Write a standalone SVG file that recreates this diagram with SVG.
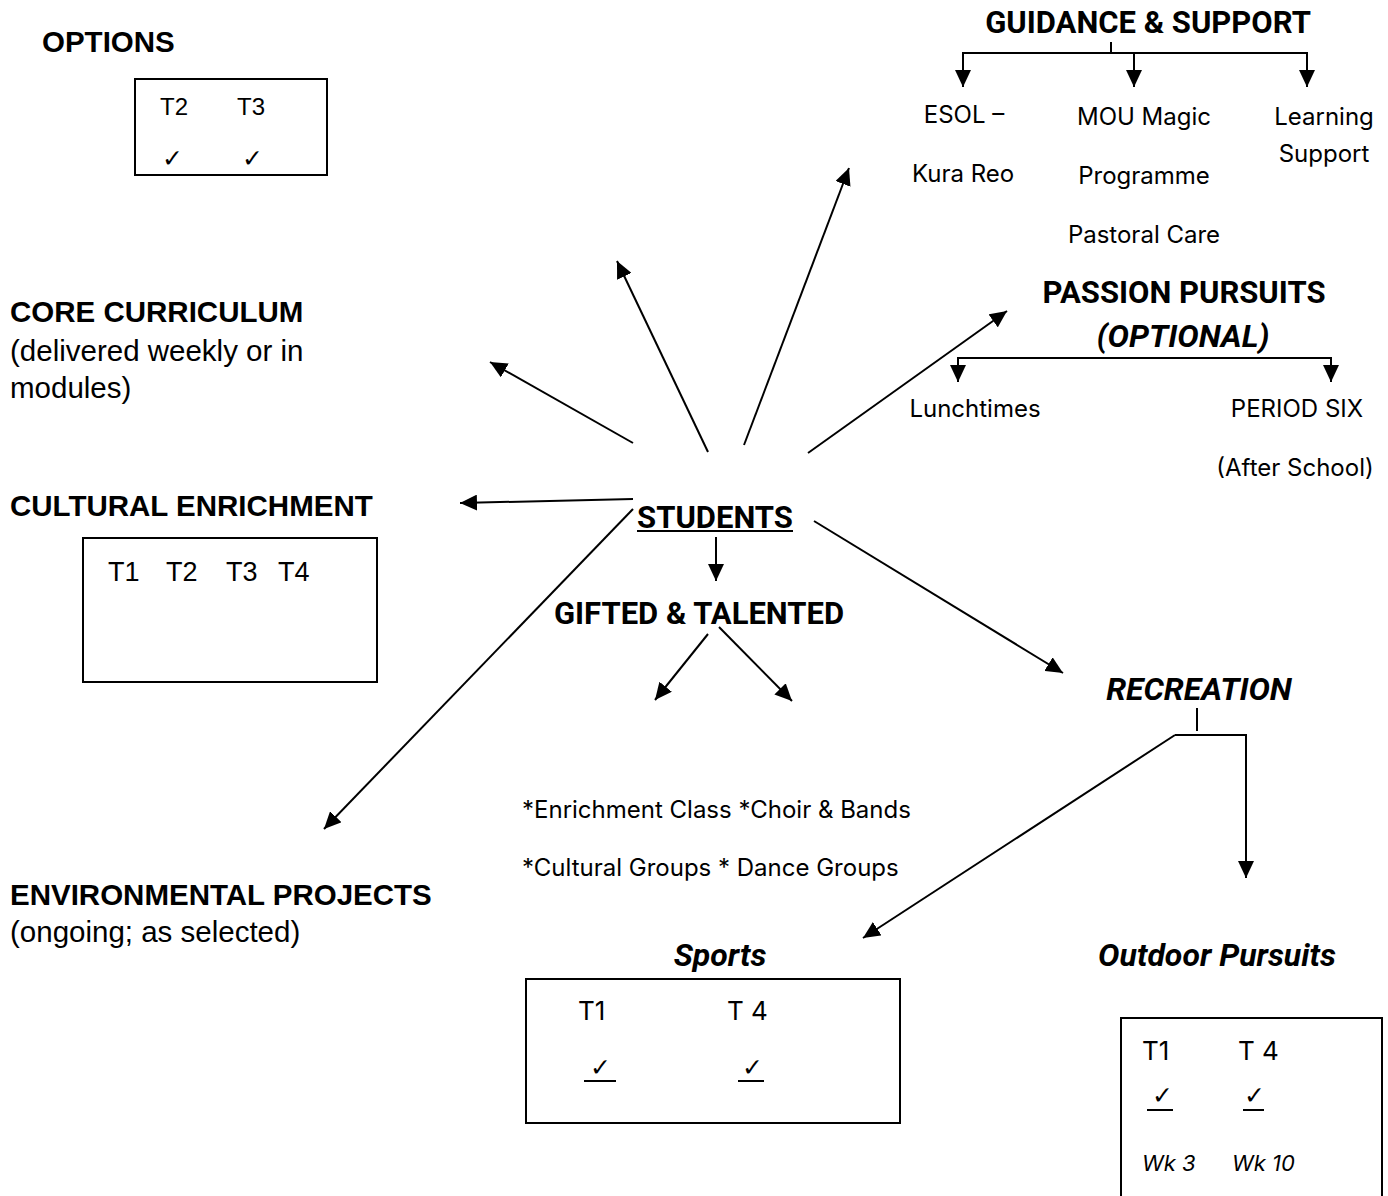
<svg xmlns="http://www.w3.org/2000/svg" width="1388" height="1196" viewBox="0 0 1388 1196">
<defs>
<marker id="ah" markerUnits="userSpaceOnUse" markerWidth="18" markerHeight="16" refX="17" refY="8" orient="auto">
<path d="M0,0 L17,8 L0,16 Z" fill="#000"/>
</marker>
<style>
.ar{font-family:"Liberation Sans",Arial,sans-serif;fill:#000}
.ap{font-family:Roboto,"Noto Sans",sans-serif;fill:#000}
.in{font-family:Inter,"Noto Sans",sans-serif;fill:#000}
.hb{font-size:29.5px;font-weight:bold}
.hr{font-size:29.5px}
.rb{font-size:31px;font-weight:bold}
.rr{font-size:24px}
.bi{font-size:32px;font-weight:bold;font-style:italic}
.ck{font-family:"DejaVu Sans",sans-serif;font-size:25px;fill:#000}
.ln{stroke:#000;stroke-width:2;fill:none}
.ar2{stroke:#000;stroke-width:2;fill:none;marker-end:url(#ah)}
.box{stroke:#000;stroke-width:2;fill:none}
</style>
</defs>
<rect width="1388" height="1196" fill="#fff"/>

<g id="options">
<text class="ar hb" x="42" y="52">OPTIONS</text>
<rect class="box" x="135" y="79" width="192" height="96"/>
<text class="ar" font-size="24" x="160" y="115">T2</text>
<text class="ar" font-size="24" x="237" y="115">T3</text>
<text class="ck" x="162" y="167">✓</text>
<text class="ck" x="242" y="167">✓</text>
</g>

<g id="core-curriculum">
<text class="ar hb" x="10" y="322">CORE CURRICULUM</text>
<text class="ar hr" x="10" y="361">(delivered weekly or in</text>
<text class="ar hr" x="10" y="398">modules)</text>
</g>

<g id="cultural-enrichment">
<text class="ar hb" x="10" y="516">CULTURAL ENRICHMENT</text>
<rect class="box" x="83" y="538" width="294" height="144"/>
<text class="ar" font-size="27" x="108" y="581">T1</text>
<text class="ar" font-size="27" x="166" y="581">T2</text>
<text class="ar" font-size="27" x="226" y="581">T3</text>
<text class="ar" font-size="27" x="278" y="581">T4</text>
</g>

<g id="environmental-projects">
<text class="ar hb" x="10" y="905">ENVIRONMENTAL PROJECTS</text>
<text class="ar hr" x="10" y="942">(ongoing; as selected)</text>
</g>

<g id="guidance-support">
<text class="ap rb" x="1148" y="33" text-anchor="middle">GUIDANCE &amp; SUPPORT</text>
<text class="in rr" x="964" y="123" text-anchor="middle">ESOL –</text>
<text class="in rr" x="963" y="182" text-anchor="middle">Kura Reo</text>
<text class="in rr" x="1144" y="125" text-anchor="middle">MOU Magic</text>
<text class="in rr" x="1144" y="184" text-anchor="middle">Programme</text>
<text class="in rr" x="1144" y="243" text-anchor="middle">Pastoral Care</text>
<text class="in rr" x="1324" y="125" text-anchor="middle">Learning</text>
<text class="in rr" x="1324" y="162" text-anchor="middle">Support</text>
</g>

<g id="passion-pursuits">
<text class="ap rb" x="1184" y="303" text-anchor="middle">PASSION PURSUITS</text>
<text class="ap bi" x="1183" y="347" text-anchor="middle">(OPTIONAL)</text>
<text class="in rr" x="975" y="417" text-anchor="middle">Lunchtimes</text>
<text class="in rr" x="1297" y="417" text-anchor="middle">PERIOD SIX</text>
<text class="in rr" x="1295" y="476" text-anchor="middle">(After School)</text>
</g>

<g id="students">
<text class="ap rb" x="715" y="528" text-anchor="middle">STUDENTS</text>
<line class="ln" x1="637" y1="531" x2="793" y2="531"/>
</g>

<g id="gifted-talented">
<text class="ap rb" x="699" y="624" text-anchor="middle">GIFTED &amp; TALENTED</text>
<text class="in rr" x="522" y="818">*Enrichment Class *Choir &amp; Bands</text>
<text class="in rr" x="522" y="876">*Cultural Groups * Dance Groups</text>
</g>

<g id="recreation">
<text class="ap bi" x="1199" y="700" text-anchor="middle">RECREATION</text>
</g>

<g id="sports">
<text class="ap bi" x="720" y="966" text-anchor="middle">Sports</text>
<rect class="box" x="526" y="979" width="374" height="144"/>
<text class="in" font-size="26" x="578" y="1020">T1</text>
<text class="in" font-size="26" x="727" y="1020">T 4</text>
<text class="ck" x="590" y="1076">✓</text>
<line class="ln" x1="584" y1="1081" x2="616" y2="1081"/>
<text class="ck" x="742" y="1076">✓</text>
<line class="ln" x1="738" y1="1081" x2="764" y2="1081"/>
</g>

<g id="outdoor-pursuits">
<text class="ap bi" x="1217" y="966" text-anchor="middle">Outdoor Pursuits</text>
<rect class="box" x="1121" y="1018" width="261" height="200"/>
<text class="in" font-size="26" x="1142" y="1060">T1</text>
<text class="in" font-size="26" x="1238" y="1060">T 4</text>
<text class="ck" x="1152" y="1104">✓</text>
<line class="ln" x1="1147" y1="1110" x2="1173" y2="1110"/>
<text class="ck" x="1244" y="1104">✓</text>
<line class="ln" x1="1243" y1="1110" x2="1264" y2="1110"/>
<text class="in" font-size="22" font-style="italic" x="1142" y="1171">Wk 3</text>
<text class="in" font-size="22" font-style="italic" x="1232" y="1171">Wk 10</text>
</g>

<g id="connectors">
<line class="ar2" x1="633" y1="443" x2="490" y2="362"/>
<line class="ar2" x1="708" y1="452" x2="617" y2="261"/>
<line class="ar2" x1="744" y1="445" x2="849" y2="168"/>
<line class="ar2" x1="808" y1="453" x2="1007" y2="311"/>
<line class="ar2" x1="633" y1="499" x2="460" y2="503"/>
<line class="ar2" x1="633" y1="509" x2="324" y2="829"/>
<line class="ar2" x1="814" y1="521" x2="1063" y2="673"/>
<line class="ar2" x1="716" y1="537" x2="716" y2="581"/>
<line class="ar2" x1="708" y1="634" x2="655" y2="700"/>
<line class="ar2" x1="719" y1="627" x2="792" y2="701"/>
<polyline class="ln" points="1111,42 1111,53"/>
<polyline class="ln" points="963,53 1307,53"/>
<line class="ar2" x1="963" y1="52" x2="963" y2="87"/>
<line class="ar2" x1="1134" y1="52" x2="1134" y2="87"/>
<line class="ar2" x1="1307" y1="52" x2="1307" y2="87"/>
<polyline class="ln" points="958,358 1331,358"/>
<line class="ar2" x1="958" y1="357" x2="958" y2="382"/>
<line class="ar2" x1="1331" y1="357" x2="1331" y2="382"/>
<line class="ln" x1="1197" y1="708" x2="1197" y2="731"/>
<polyline class="ln" points="1175,735 1246,735"/>
<line class="ar2" x1="1175" y1="735" x2="863" y2="938"/>
<line class="ar2" x1="1246" y1="734" x2="1246" y2="878"/>
</g>
</svg>
